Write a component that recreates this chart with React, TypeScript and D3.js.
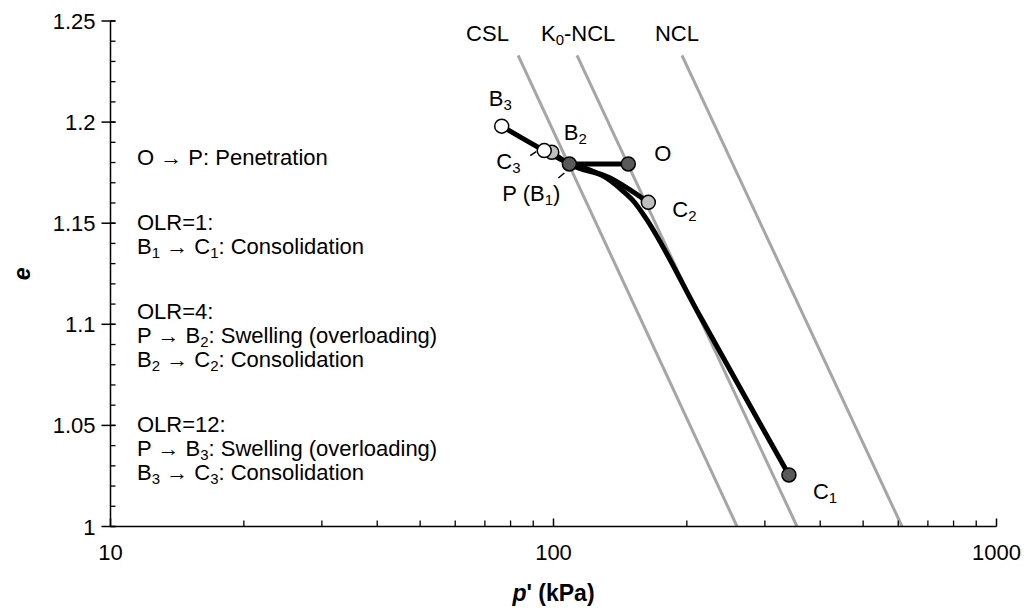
import React from "react";
import * as d3 from "d3";

// reference lines (p' at top and bottom of drawn segment)
const refLineNames = ["CSL", "K_0-NCL", "NCL"];
const refLineE = [1.233, 1.0];
const cslP = [83.2, 259.6];
const k0NclP = [113, 354.6];
const nclP = [195, 612];

// state points
const pointNames = ["O", "P", "B2", "C2", "B3", "C3", "C1"];
const pointP = [147.5, 108.6, 99.1, 163.7, 76.4, 95.3, 340];
const pointE = [1.1793, 1.1793, 1.1851, 1.1603, 1.198, 1.1859, 1.0255];
const pointKind = ["dark", "dark", "light", "light", "white", "white", "dark"];

// stress paths
const penetrationP = [108.6, 147.5];
const penetrationE = [1.1793, 1.1793];
const olr1P = [108.6, 120.9, 132.7, 143.5, 152.8, 160.9, 214.1, 289.5, 340];
const olr1E = [1.1793, 1.1763, 1.1719, 1.1659, 1.16, 1.1531, 1.1041, 1.0527, 1.0255];
const olr4P = [99.1, 108.6, 133.5, 163.7];
const olr4E = [1.1851, 1.1793, 1.1726, 1.1603];
const olr12P = [76.4, 95.3, 108.6];
const olr12E = [1.198, 1.1859, 1.1793];

const xTickValues = [10, 100, 1000];
const yTickValues = [1, 1.05, 1.1, 1.15, 1.2, 1.25];

const noteLines = [
  "O → P: Penetration",
  "",
  "OLR=1:",
  "B_1 → C_1: Consolidation",
  "",
  "OLR=4:",
  "P → B_2: Swelling (overloading)",
  "B_2 → C_2: Consolidation",
  "",
  "OLR=12:",
  "P → B_3: Swelling (overloading)",
  "B_3 → C_3: Consolidation",
];

const fillFor: Record<string, string> = { dark: "#595959", light: "#bfbfbf", white: "#ffffff" };

function Rich({ text }: { text: string }) {
  const parts = text.split(/_(\d)/);
  return (
    <>
      {parts.map((s, i) =>
        i % 2 === 1 ? (
          <tspan key={i} dy={4} fontSize="0.68em">{s}</tspan>
        ) : (
          <tspan key={i} dy={i > 0 ? -4 : 0}>{s}</tspan>
        )
      )}
    </>
  );
}

export default function App() {
  const x = d3.scaleLog().domain([10, 1000]).range([110.5, 996.5]);
  const y = d3.scaleLinear().domain([1, 1.25]).range([526.5, 21]);

  const line = (ps: number[], es: number[]) =>
    d3.line<number>()
      .x((p) => x(p))
      .y((_, i) => y(es[i]))
      .curve(d3.curveMonotoneX)(ps) ?? "";

  const refP = [cslP, k0NclP, nclP];
  const minorX = x.ticks().filter((t) => !xTickValues.includes(t));
  const minorY = d3.range(100, 126).map((v) => v / 100);

  const pt = (name: string) => {
    const i = pointNames.indexOf(name);
    return [x(pointP[i]), y(pointE[i])];
  };
  const [c3x, c3y] = pt("C3");
  const [px, py] = pt("P");

  const font = "'Liberation Sans', Arial, Helvetica, sans-serif";
  const fs = 22;

  return (
    <svg
      width={1030}
      height={615}
      style={{ position: "absolute", left: 0, top: 0, background: "#fff" }}
      fontFamily={font}
    >
      {/* reference lines */}
      {refP.map((ps, i) => (
        <line
          key={i}
          x1={x(ps[0])}
          y1={y(refLineE[0])}
          x2={x(ps[1])}
          y2={y(refLineE[1])}
          stroke="#a6a6a6"
          strokeWidth={3}
        />
      ))}
      {refLineNames.map((n, i) => (
        <text key={n} x={x(refP[i][0]) - 52 + (i === 1 ? 16 : 0) + (i === 2 ? 25 : 0)} y={40.5} fontSize={fs}>
          <Rich text={n} />
        </text>
      ))}

      {/* axes */}
      <line x1={x(10)} x2={x(1000)} y1={y(1)} y2={y(1)} stroke="#000" strokeWidth={1.5} />
      <line x1={x(10)} x2={x(10)} y1={y(1)} y2={y(1.25)} stroke="#000" strokeWidth={1.5} />
      {xTickValues.map((t) => (
        <g key={t}>
          <line x1={x(t)} x2={x(t)} y1={y(1)} y2={y(1) - 8} stroke="#000" strokeWidth={1.5} />
          <text x={x(t)} y={560} textAnchor="middle" fontSize={fs}>{t}</text>
        </g>
      ))}
      {minorX.map((t) => (
        <line key={t} x1={x(t)} x2={x(t)} y1={y(1)} y2={y(1) - 6} stroke="#000" strokeWidth={1.3} />
      ))}
      {minorY.map((t) => (
        <line key={t} x1={x(10)} x2={x(10) + 5} y1={y(t)} y2={y(t)} stroke="#000" strokeWidth={1.3} />
      ))}
      {yTickValues.map((t) => (
        <g key={t}>
          <line x1={x(10) - 9} x2={x(10) + 5} y1={y(t)} y2={y(t)} stroke="#000" strokeWidth={1.5} />
          <text x={x(10) - 15} y={y(t) + 8} textAnchor="end" fontSize={fs}>{d3.format("")(t)}</text>
        </g>
      ))}
      <text
        transform={`translate(30, ${y(1.125)}) rotate(-90)`}
        textAnchor="middle"
        fontSize={23}
        fontWeight="bold"
        fontStyle="italic"
      >
        e
      </text>
      <text x={x(100)} y={601} textAnchor="middle" fontSize={23} fontWeight="bold">
        <tspan fontStyle="italic">p</tspan>' (kPa)
      </text>

      {/* notes */}
      {noteLines.map((l, i) => {
        const gaps = noteLines.slice(0, i).filter((s) => s === "").length;
        const lineY = 165 + i * 24 + gaps * 17;
        return l ? (
          <text key={i} x={137} y={lineY} fontSize={fs}>
            <Rich text={l} />
          </text>
        ) : null;
      })}

      {/* paths */}
      <g fill="none" stroke="#000" strokeWidth={5} strokeLinecap="round" strokeLinejoin="round">
        <path d={line(olr1P, olr1E)} />
        <path d={line(olr4P, olr4E)} />
        <path d={line(olr12P, olr12E)} />
        <path d={line(penetrationP, penetrationE)} />
      </g>

      {/* leaders */}
      <line x1={c3x - 14} y1={c3y + 5} x2={c3x - 8} y2={c3y + 1} stroke="#000" strokeWidth={1.5} />
      <line x1={px - 11} y1={py + 14} x2={px - 5} y2={py + 9} stroke="#000" strokeWidth={1.5} />

      {/* points */}
      {pointNames.map((n, i) => (
        <circle
          key={n}
          cx={x(pointP[i])}
          cy={y(pointE[i])}
          r={7}
          fill={fillFor[pointKind[i]]}
          stroke="#000"
          strokeWidth={1.5}
        />
      ))}

      {/* point labels */}
      {(() => {
        const labels: [string, number, number][] = [
          ["B_3", -13, -20],
          ["B_2", 12, -12],
          ["O", 26, -3],
          ["C_3", -48, 18],
          ["P (B_1)", -67, 37],
          ["C_2", 24, 15],
          ["C_1", 24, 24],
        ];
        const anchor: Record<string, string> = {
          "B_3": "B3", "B_2": "B2", "O": "O", "C_3": "C3", "P (B_1)": "P", "C_2": "C2", "C_1": "C1",
        };
        return labels.map(([t, dx, dy]) => {
          const [ax, ay] = pt(anchor[t]);
          return (
            <text key={t} x={ax + dx} y={ay + dy} fontSize={fs}>
              <Rich text={t} />
            </text>
          );
        });
      })()}
    </svg>
  );
}
